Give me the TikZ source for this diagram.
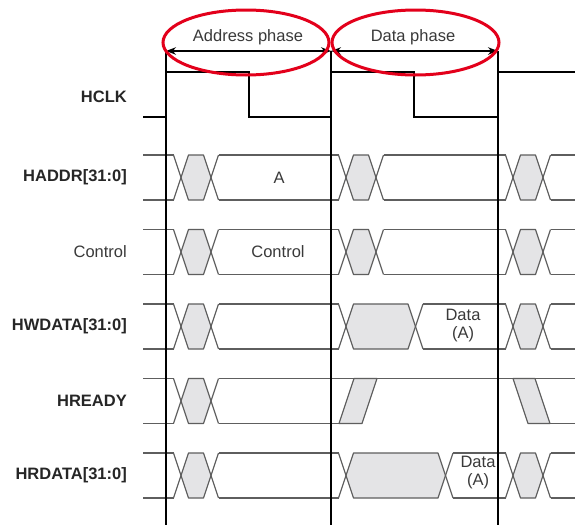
\documentclass[tikz,border=0pt]{standalone}
\usepackage{fontspec}
\setmainfont{Liberation Sans}
\usetikzlibrary{arrows.meta}
\definecolor{sig}{HTML}{5E5E5E}
\definecolor{txt}{HTML}{3A3A3A}
\definecolor{shade}{HTML}{E4E4E6}
\definecolor{ellred}{HTML}{E3001B}
\tikzset{
  sigline/.style={draw=sig, line width=1.2pt, line join=round},
  clkline/.style={draw=black, line width=2pt},
  lab/.style={inner sep=0pt, font=\fontsize{16.5}{18}\selectfont},
  phasearrow/.style={draw=black, line width=1.4pt, {Stealth[length=10pt,width=7.5pt]}-{Stealth[length=10pt,width=7.5pt]}},
  ring/.style={draw=ellred, line width=3pt}
}
\newcommand\hexcell[3]{%
  \filldraw[sigline, fill=shade] (#1,#3+22.5) -- (#1+7.5,#3) -- (#2-7.5,#3) -- (#2,#3+22.5) -- (#2-7.5,#3+45) -- (#1+7.5,#3+45) -- cycle;
  \draw[sigline] (#1-7.5,#3) -- (#1,#3+22.5) -- (#1-7.5,#3+45);
  \draw[sigline] (#2+7.5,#3) -- (#2,#3+22.5) -- (#2+7.5,#3+45);
}
\newcommand\hpair[3]{\draw[sigline] (#1,#3) -- (#2,#3) (#1,#3+45) -- (#2,#3+45);}
\begin{document}
\begin{tikzpicture}[x=1pt,y=-1pt]
\useasboundingbox (0,0) rectangle (575,525);
\fill[white] (0,0) rectangle (575,525);

% labels
\node[lab, anchor=east, text=black!85] (lhclk) at (127,97) {\textbf{HCLK}};
\node[lab, anchor=east, text=black!85] (lhaddr) at (127,177.5) {\textbf{HADDR[31:0]}};
\node[lab, anchor=east, text=txt] (lctrl) at (127,252) {Control};
\node[lab, anchor=east, text=black!85] (lhwdata) at (127,326.5) {\textbf{HWDATA[31:0]}};
\node[lab, anchor=east, text=black!85] (lhready) at (127,401) {\textbf{HREADY}};
\node[lab, anchor=east, text=black!85] (lhrdata) at (127,475.5) {\textbf{HRDATA[31:0]}};

% HADDR and Control
\foreach \t in {155,229.5}{
  \hpair{143}{173.5}{\t}
  \hexcell{181}{211}{\t}
  \hpair{218.5}{338.5}{\t}
  \hexcell{346}{376}{\t}
  \hpair{383.5}{505.5}{\t}
  \hexcell{513}{543}{\t}
  \hpair{550.5}{575}{\t}
}
% HWDATA
\hpair{143}{173.5}{304}
\hexcell{181}{211}{304}
\hpair{218.5}{338.5}{304}
\hexcell{346}{415.5}{304}
\hpair{423}{505.5}{304}
\hexcell{513}{543}{304}
\hpair{550.5}{575}{304}
% HREADY
\hpair{143}{173.5}{378.5}
\hexcell{181}{211}{378.5}
\draw[sigline] (218.5,378.5) -- (575,378.5);
\draw[sigline] (218.5,423.5) -- (339,423.5);
\draw[sigline] (550,423.5) -- (575,423.5);
\filldraw[sigline, fill=shade] (339,423.5) -- (362,423.5) -- (377,378.5) -- (354,378.5) -- cycle;
\filldraw[sigline, fill=shade] (513,378.5) -- (535,378.5) -- (550,423.5) -- (528,423.5) -- cycle;
% HRDATA
\hpair{143}{173.5}{453}
\hexcell{181}{211}{453}
\hpair{218.5}{338.5}{453}
\hexcell{346}{445.5}{453}
\hpair{453}{505.5}{453}
\hexcell{513}{543}{453}
\hpair{550.5}{575}{453}

% in-row texts
\node[lab, text=txt] (ta) at (279,177.5) {A};
\node[lab, text=txt] (tctrl) at (278,252) {Control};
\node[lab, text=txt, align=center] (tdw) at (463,326) {Data\\(A)};
\node[lab, text=txt, align=center] (tdr) at (478,473) {Data\\(A)};

% clock edges
\coordinate (e1t) at (166,51); \coordinate (e1b) at (166,525);
\coordinate (e2t) at (331,51); \coordinate (e2b) at (331,525);
\coordinate (e3t) at (498,51); \coordinate (e3b) at (498,525);
\draw[clkline] (e1t) -- (e1b);
\draw[clkline] (e2t) -- (e2b);
\draw[clkline] (e3t) -- (e3b);

% HCLK
\draw[clkline, line join=miter] (143,117) -- (166,117) -- (166,72) -- (248.7,72) -- (248.7,117) -- (331,117) -- (331,72) -- (414,72) -- (414,117) -- (498,117) -- (498,72) -- (575,72);

% phase arrows
\draw[phasearrow] (e1t) -- (e2t);
\draw[phasearrow] (e2t) -- (e3t);
\node[lab, text=txt] (tap) at (248,37) {Address phase};
\node[lab, text=txt] (tdp) at (413,37) {Data phase};

% red rings
\draw[ring] (246,42.5) ellipse [x radius=83pt, y radius=32.5pt];
\draw[ring] (415.5,42.5) ellipse [x radius=83.5pt, y radius=32.5pt];
\end{tikzpicture}
\end{document}
